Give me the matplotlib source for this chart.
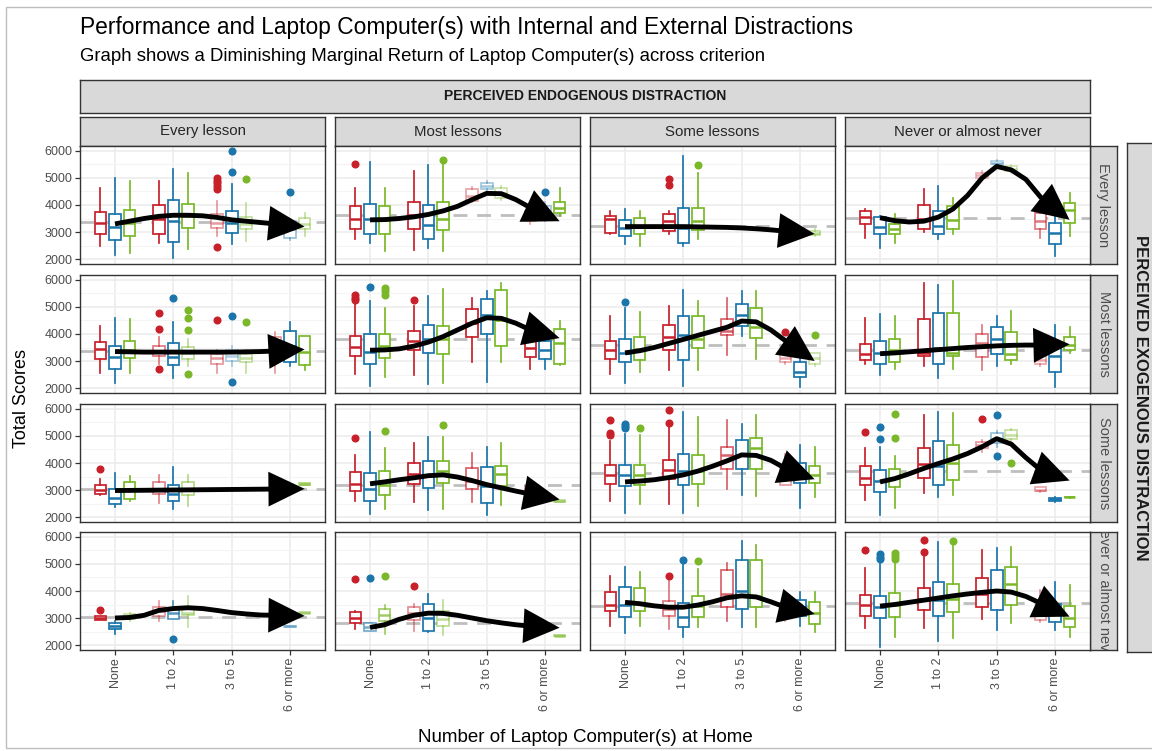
import matplotlib
matplotlib.use("Agg")
import matplotlib.pyplot as plt
from matplotlib.patches import Rectangle
from matplotlib.ticker import MultipleLocator, FixedLocator
from matplotlib.colors import to_rgba

# ---------------- data ----------------
TITLE = "Performance and Laptop Computer(s) with Internal and External Distractions"
SUBTITLE = "Graph shows a Diminishing Marginal Return of Laptop Computer(s) across criterion"
TOP_STRIP = "PERCEIVED ENDOGENOUS DISTRACTION"
RIGHT_STRIP = "PERCEIVED EXOGENOUS DISTRACTION"
X_LABEL = "Number of Laptop Computer(s) at Home"
Y_LABEL = "Total Scores"
X_CATS = ["None", "1 to 2", "3 to 5", "6 or more"]
COL_LABELS = ["Every lesson", "Most lessons", "Some lessons", "Never or almost never"]
ROW_LABELS = ["Every lesson", "Most lessons", "Some lessons", "Never or almost never"]
GROUP_COLORS = ["#C8202A", "#1B75AB", "#7AB829"]
Y_TICKS = [2000, 3000, 4000, 5000, 6000]
N = None

# each panel: 12 boxes = 4 categories x 3 groups (red, blue, green)
LO = [
    [[2480,2140,2230, 2580,2030,2360, 2850,2540,2670, 2850,2700,2850],
     [2730,2600,2300, 2320,2420,2300, 4100,4500,4200, 3300,3400,3600],
     [2910,2540,2480, 2910,2480,2750, N,N,N, N,N,2850],
     [2790,2420,2600, 3000,2750,2940, 4950,5450,5200, 2790,2110,2850]],
    [[2560,2200,2560, 2900,2370,2830, 2560,2830,2560, 2560,2830,2650],
     [2530,2070,2400, 2470,2160,2200, 2960,2220,2980, 2710,2710,2860],
     [2530,2200,2590, 2650,2070,2650, 3230,3940,3080, 2900,2040,2830],
     [2900,2470,2690, 2830,2370,2690, 2650,2830,2900, 2830,2040,3300]],
    [[2830,2370,2590, 2530,2280,2400, N,N,N, N,2960,3180],
     [2590,2100,2280, 2560,2250,2280, 2560,2070,2440, 2830,2600,2540],
     [2590,2160,2470, 2470,2160,2400, 3020,2830,2770, 3200,2330,2740],
     [2630,2070,2320, 2880,2750,2810, 4400,4600,4800, 2940,2570,2720]],
    [[2930,2400,2890, 2890,2950,2680, N,N,N, N,2650,3180],
     [2590,2530,2400, 2510,2470,2380, N,N,N, 2750,N,2340],
     [2720,2430,2720, 2590,2310,2680, 2900,2650,2650, 2900,2720,2470],
     [2620,1940,2310, 2620,2160,2250, 2950,2560,2800, 2860,2560,2310]],
]
Q1 = [
    [[2910,2720,2850, 2910,2630,3160, 3160,2980,3120, 3040,2790,3100],
     [3100,2910,2910, 3100,2730,3070, 4150,4580,4270, 3400,3470,3690],
     [2975,2850,2910, 3040,2600,3070, N,N,N, N,N,2900],
     [3280,2910,2910, 3100,2910,3100, 5000,5500,5260, 3120,2540,3350]],
    [[3080,2710,3100, 3200,2860,3080, 2900,3000,2960, 3140,2960,2860],
     [3200,2900,3100, 3390,3300,3260, 3880,4000,3550, 3140,3080,2900],
     [3080,2960,3020, 3420,3020,3470, 3960,4310,3840, 2960,2400,2900],
     [3020,2900,2960, 3170,2900,3170, 3140,3260,3020, 2900,2590,3390]],
    [[2860,2490,2650, 2860,2590,2830, N,N,N, N,3000,3200],
     [2980,2590,2810, 3230,3060,3260, 3020,2530,3140, 2900,2650,2560],
     [3230,3140,3200, 3390,3170,3230, 3790,3760,3760, 3200,3260,3260],
     [3190,2940,3100, 3430,3190,3370, 4540,4730,4880, 2960,2600,2725]],
    [[2930,2590,2950, 3070,2980,3100, N,N,N, N,2670,3190],
     [2800,2530,2900, 2930,2510,2720, N,N,N, 2760,N,2345],
     [3270,3050,3270, 3090,2650,3050, 3400,3330,3400, 3090,3090,2780],
     [3070,2990,3050, 3300,3070,3230, 3400,3300,3480, 2930,2860,2680]],
]
MED = [
    [[3350,3200,3350, 3470,3400,3590, 3350,3350,3300, 3300,3100,3300],
     [3500,3470,3450, 3620,3250,3500, 4350,4700,4450, 3600,3700,3900],
     [3470,3150,3200, 3400,3150,3400, N,N,N, N,N,2980],
     [3550,3200,3100, 3500,3220,3450, 5100,5560,5350, 3400,2950,3800]],
    [[3450,3150,3400, 3350,3150,3280, 3100,3200,3100, 3500,3550,3350],
     [3530,3350,3550, 3750,3800,3800, 4400,4700,4500, 3500,3400,3650],
     [3390,3300,3450, 3900,3950,3800, 4100,4700,4250, 3100,2600,3100],
     [3260,3300,3400, 3300,3500,3300, 3650,3800,3260, 3050,3200,3600]],
    [[3000,2700,3000, 3050,2850,3050, N,N,N, N,3020,3230],
     [3230,3020,3200, 3600,3540,3720, 3350,3150,3600, 3020,2700,2590],
     [3570,3550,3550, 3750,3700,3700, 4310,4310,4560, 3500,3600,3550],
     [3430,3350,3450, 3950,3900,4000, 4650,4900,5050, 3000,2650,2730]],
    [[3000,2700,3050, 3250,3200,3200, N,N,N, N,2690,3200],
     [3000,2650,3100, 3200,3000,2950, N,N,N, 2780,N,2350],
     [3490,3500,3550, 3350,3050,3450, 3900,4000,3800, 3400,3400,3200],
     [3480,3400,3500, 3700,3650,3700, 3900,4000,4250, 3100,3200,3000]],
]
Q3 = [
    [[3740,3650,3800, 3990,4170,4030, 3650,3780,3570, 3570,3400,3530],
     [3960,4050,3960, 4110,3990,4110, 4580,4830,4640, 3780,3960,4110],
     [3600,3430,3530, 3650,3900,3900, N,N,N, N,N,3050],
     [3780,3560,3280, 3990,3780,3960, 5200,5630,5440, 3720,3350,4090]],
    [[3690,3570,3750, 3570,3660,3510, 3260,3400,3260, 3880,4120,3940],
     [3940,4000,4000, 4120,4330,4310, 4940,5290,5630, 3820,3750,4180],
     [3750,3820,3880, 4330,4650,4680, 4540,5100,4980, 3260,2960,3300],
     [3630,3750,3820, 4570,4790,4770, 4000,4270,4060, 3200,3570,3880]],
    [[3180,3020,3300, 3300,3180,3300, N,N,N, N,3050,3250],
     [3670,3630,3690, 4000,4060,4060, 3820,3840,3880, 3140,2750,2620],
     [3940,3940,3940, 4120,4330,4280, 4610,4860,4920, 3880,4000,3880],
     [3890,3740,3770, 4540,4830,4670, 4790,5120,5220, 3100,2720,2735]],
    [[3070,2830,3150, 3410,3320,3340, N,N,N, N,2700,3210],
     [3210,2800,3330, 3400,3520,3250, N,N,N, 2800,N,2355],
     [3950,4160,4110, 3640,3540,3830, 4780,5150,5150, 3570,3670,3580],
     [3850,3810,3910, 4100,4350,4260, 4470,4780,4880, 3300,3520,3440]],
]
HI = [
    [[4640,5010,4890, 4890,5350,5200, 4150,4760,4090, 3720,3500,3720],
     [4640,5590,4640, 5260,5470,5500, 4650,4880,4700, 3900,4100,4640],
     [3780,3860,3780, 3780,5810,5200, N,N,N, N,N,3120],
     [3840,3590,3650, 4600,4700,4270, 5250,5680,5480, 4150,4090,4460]],
    [[4310,4580,4560, 3880,4450,3820, 3390,3570,3390, 4090,4430,3940],
     [5170,5230,4980, 5040,5410,5660, 5350,5600,5900, 3840,3880,4490],
     [4680,4980,4800, 5040,5630,5230, 5350,5600,5600, 3390,3820,3300],
     [4580,4740,4680, 5900,5800,5960, 4330,4680,4860, 3390,4330,4250]],
    [[3390,3630,3510, 3570,3840,3570, N,N,N, N,3080,3270],
     [4310,5140,4550, 4740,4980,4980, 4370,4610,4740, 3260,2800,2640],
     [4800,5070,5040, 5330,5900,5720, 5600,5440,5770, 4330,4680,4610],
     [4540,4600,4260, 5780,5900,5840, 4850,5200,5250, 3120,2750,2740]],
    [[3070,2890,3190, 3620,3620,3800, N,N,N, N,2720,3220],
     [3270,2800,3490, 3520,3890,3670, N,N,N, 2820,N,2360],
     [4570,4900,4690, 4380,5000,4810, 5020,5860,5720, 3740,3950,3950],
     [4840,5020,5090, 5300,5830,5770, 5520,5580,5640, 4040,4350,4220]],
]
ALPHA = [
    [[1,1,1, 1,1,1, .45,1,.45, .45,.45,.45],
     [1,1,1, 1,1,1, .4,.4,.4, .4,.4,1],
     [1,1,1, 1,1,1, 1,1,1, 1,1,.45],
     [1,1,1, 1,1,1, .35,.35,.35, .6,1,1]],
    [[1,1,1, .6,1,.5, .45,.35,.45, .45,1,1],
     [1,1,1, 1,1,1, 1,1,1, 1,1,1],
     [1,1,1, 1,1,1, .7,1,1, .4,1,.4],
     [1,1,1, 1,1,1, .6,1,1, .4,1,1]],
    [[1,1,1, .55,1,.55, 1,1,1, 1,.35,.6],
     [1,1,1, 1,1,1, .7,1,1, .45,.3,.5],
     [1,1,1, 1,1,1, .7,1,1, .45,1,1],
     [1,1,1, 1,1,1, .45,.45,.45, .4,1,1]],
    [[1,1,.45, .45,.75,.45, 1,1,1, 1,.4,.5],
     [1,.6,.7, .5,1,.5, 1,1,1, .35,1,.6],
     [1,1,1, .6,1,1, .7,1,1, .4,1,1],
     [1,1,1, 1,1,1, 1,1,1, .45,1,1]],
]
FLIERS = [
    [[[],[],[], [],[],[], [5000,4900,4800,4700,4600,2440],[6000,5230],[4950], [],[4480],[]],
     [[5500],[],[], [],[],[5670], [],[],[], [],[4480],[]],
     [[],[],[], [4950,4750],[],[5470], [],[],[], [],[],[]],
     [[],[],[], [],[],[], [],[],[], [],[],[]]],
    [[[],[],[], [4760,4180,2690],[5340],[4900,4580,4160,2530], [4520],[4650,2220],[4430], [],[],[]],
     [[5440,5330,5250],[5750],[5720,5600,5450], [5260],[],[], [],[],[], [],[],[]],
     [[],[5170],[], [],[],[], [],[],[], [4090],[],[3960]],
     [[],[],[], [],[],[], [],[],[], [],[],[]]],
    [[[3790],[],[], [],[],[], [],[],[], [],[],[]],
     [[4920],[],[5170], [],[],[5390], [],[],[], [],[],[]],
     [[5600,5100,5020],[5450,5380,5300],[5290], [5960,5470],[],[], [],[],[], [],[],[]],
     [[5140],[5350,4880],[5810,4910], [],[],[], [5620],[5780,4260],[4010], [],[],[]]],
    [[[3290],[],[], [],[2220],[], [],[],[], [],[],[]],
     [[4440],[4480],[4570], [4200],[],[], [],[],[], [],[],[]],
     [[],[],[], [4570],[5150],[5100], [],[],[], [],[],[]],
     [[5520],[5370,5270,5170],[5400,5300,5200], [5890,5460],[],[5850], [],[],[], [],[],[]]],
]
# dashed reference level per panel
HLINE = [[3370, 3620, 3220, 3530],
         [3360, 3820, 3610, 3420],
         [3020, 3200, 3630, 3720],
         [3050, 2800, 3460, 3540]]
# smoothed trend (black arrow) sampled along the x axis
TREND_X = [1.0, 1.25, 1.5, 1.75, 2.0, 2.25, 2.5, 2.75, 3.0, 3.25, 3.5, 3.75, 4.0, 4.25]
TREND = [
    [[3300,3400,3500,3580,3620,3620,3600,3540,3450,3400,3350,3300,3250,3200],
     [3450,3460,3500,3560,3650,3780,3950,4200,4430,4420,4200,3900,3600,3400],
     [3200,3200,3200,3200,3200,3190,3180,3170,3150,3120,3080,3030,2980,2930],
     [3530,3420,3370,3400,3550,3850,4350,5000,5430,5300,4950,4300,3850,3450]],
    [[3350,3340,3330,3330,3330,3330,3330,3330,3330,3340,3350,3370,3400,3430],
     [3400,3410,3450,3550,3700,3900,4150,4400,4600,4580,4400,4150,3950,3850],
     [3300,3380,3500,3650,3800,3950,4100,4250,4480,4450,4150,3750,3350,3000],
     [3270,3300,3340,3380,3420,3460,3500,3530,3560,3580,3590,3590,3600,3620]],
    [[2980,2985,2990,2995,3000,3005,3010,3015,3020,3025,3030,3035,3040,3045],
     [3230,3300,3380,3450,3530,3560,3480,3350,3200,3080,2960,2850,2750,2650],
     [3300,3330,3380,3460,3560,3700,3880,4080,4300,4280,4100,3800,3550,3400],
     [3300,3420,3600,3800,3980,4150,4350,4600,4900,4700,4200,3750,3450,3350]],
    [[3000,3020,3100,3280,3350,3380,3350,3280,3200,3150,3110,3100,3090,3080],
     [2650,2750,2950,3100,3180,3170,3100,3000,2900,2820,2750,2700,2670,2640],
     [3580,3530,3450,3400,3400,3480,3600,3750,3820,3780,3600,3400,3250,3150],
     [3440,3500,3580,3660,3740,3820,3890,3950,4000,3960,3800,3550,3300,3050]],
]

# ---------------- layout ----------------
W, H = 1152, 751
FONT = ["Liberation Sans", "DejaVu Sans"]
plt.rcParams["font.family"] = FONT

fig = plt.figure(figsize=(W / 100, H / 100), dpi=100)
fig.patch.set_facecolor("white")


def px_axes(x0, y0, x1, y1, **kw):
    return fig.add_axes([x0 / W, 1 - y1 / H, (x1 - x0) / W, (y1 - y0) / H], **kw)


COL_X = [(80, 325), (335, 580), (590, 835), (845, 1090)]
ROW_Y = [(146, 264), (275, 393), (404, 522), (532, 650)]
STRIP_EDGE = "#333333"
STRIP_FILL = "#D9D9D9"


def strip(x0, y0, x1, y1, text, rot=0, bold=False, color="#1A1A1A", size=10,
          tx=0.5, ty=0.5):
    a = px_axes(x0, y0, x1, y1)
    a.set_facecolor(STRIP_FILL)
    a.set_xticks([]); a.set_yticks([])
    for s in a.spines.values():
        s.set_color(STRIP_EDGE); s.set_linewidth(1.0)
    a.text(tx, ty, text, transform=a.transAxes, ha="center", va="center",
           rotation=rot, fontsize=size, color=color,
           fontweight="bold" if bold else "normal", clip_on=True)
    return a


# page border
fig.add_artist(Rectangle((6 / W, 1 - 748 / H), (1300 - 6) / W, (748 - 7) / H,
                         transform=fig.transFigure, fill=False,
                         edgecolor="#BDBDBD", linewidth=1.0))

# titles
fig.text(80 / W, 1 - 34 / H, TITLE, fontsize=16.4, ha="left", va="baseline", color="#000000")
fig.text(80 / W, 1 - 61 / H, SUBTITLE, fontsize=13.4, ha="left", va="baseline", color="#000000")

# outer strips
strip(80, 80, 1090, 113, TOP_STRIP, bold=True, size=10)
strip(1127, 143, 1175, 652, RIGHT_STRIP, rot=-90, bold=True, size=12, tx=0.29)

# column strips
for c, (x0, x1) in enumerate(COL_X):
    strip(x0, 117, x1, 146, COL_LABELS[c], size=10.8, color="#262626")

# row strips
for r, (y0, y1) in enumerate(ROW_Y):
    strip(1090, y0, 1117, y1, ROW_LABELS[r], rot=-90, size=10.5, color="#4D4D4D")

OFFS = [-0.25, 0.0, 0.25]
for r, (y0, y1) in enumerate(ROW_Y):
    for c, (x0, x1) in enumerate(COL_X):
        ax = px_axes(x0, y0, x1, y1)
        ax.set_xlim(0.4, 4.6)
        ax.set_ylim(1815, 6185)
        ax.set_facecolor("white")
        ax.yaxis.set_major_locator(FixedLocator(Y_TICKS))
        ax.yaxis.set_minor_locator(MultipleLocator(500))
        ax.set_xticks([1, 2, 3, 4])
        ax.grid(True, which="major", color="#EBEBEB", linewidth=1.1, zorder=0)
        ax.grid(True, which="minor", axis="y", color="#F4F4F4", linewidth=0.8, zorder=0)
        ax.set_axisbelow(True)
        for s in ax.spines.values():
            s.set_color("#333333"); s.set_linewidth(1.0)
        ax.tick_params(which="minor", length=0)
        ax.tick_params(which="major", length=3.5, width=0.9, color="#333333",
                       labelsize=9, labelcolor="#4D4D4D", pad=2)
        if c == 0:
            ax.set_yticklabels([str(v) for v in Y_TICKS])
        else:
            ax.tick_params(axis="y", length=0, labelleft=False)
        if r == 3:
            ax.set_xticklabels(X_CATS, rotation=90, va="top", ha="center")
        else:
            ax.tick_params(axis="x", length=0, labelbottom=False)

        ax.axhline(HLINE[r][c], color="#BEBEBE", linewidth=2.0,
                   linestyle=(0, (5, 3.5)), zorder=1)

        for i in range(12):
            med = MED[r][c][i]
            if med is None:
                continue
            cat, g = divmod(i, 3)
            base = GROUP_COLORS[g]
            col = to_rgba(base, ALPHA[r][c][i])
            st = dict(med=med, q1=Q1[r][c][i], q3=Q3[r][c][i],
                      whislo=LO[r][c][i], whishi=HI[r][c][i],
                      fliers=FLIERS[r][c][i])
            ax.bxp([st], positions=[cat + 1 + OFFS[g]], widths=0.2,
                   patch_artist=True, showcaps=False, manage_ticks=False,
                   boxprops=dict(facecolor="white", edgecolor=col, linewidth=1.25),
                   whiskerprops=dict(color=col, linewidth=1.25),
                   medianprops=dict(color=col, linewidth=1.8, solid_capstyle="butt"),
                   flierprops=dict(marker="o", markerfacecolor=base,
                                   markeredgecolor=base, markersize=4.8),
                   zorder=3)

        ty = TREND[r][c]
        # trend curve (stops inside the arrow head)
        ax.plot(TREND_X[:-1], ty[:-1], color="black", linewidth=3.5,
                solid_capstyle="butt", solid_joinstyle="round", zorder=5)
        # arrow head along the final direction of the trend
        ax.annotate("", xy=(TREND_X[-1], ty[-1]), xytext=(TREND_X[-3], ty[-3]),
                    arrowprops=dict(arrowstyle="-|>,head_length=26,head_width=12.5",
                                    mutation_scale=1, color="black", linewidth=0.01,
                                    shrinkA=0, shrinkB=0),
                    zorder=6)

# axis titles
fig.text(22 / W, 1 - 398 / H, Y_LABEL, rotation=90, fontsize=13,
         ha="center", va="center", color="#000000")
fig.text(585 / W, 1 - 737 / H, X_LABEL, fontsize=13.5,
         ha="center", va="center", color="#000000")

fig.savefig("out.png", dpi=100)
